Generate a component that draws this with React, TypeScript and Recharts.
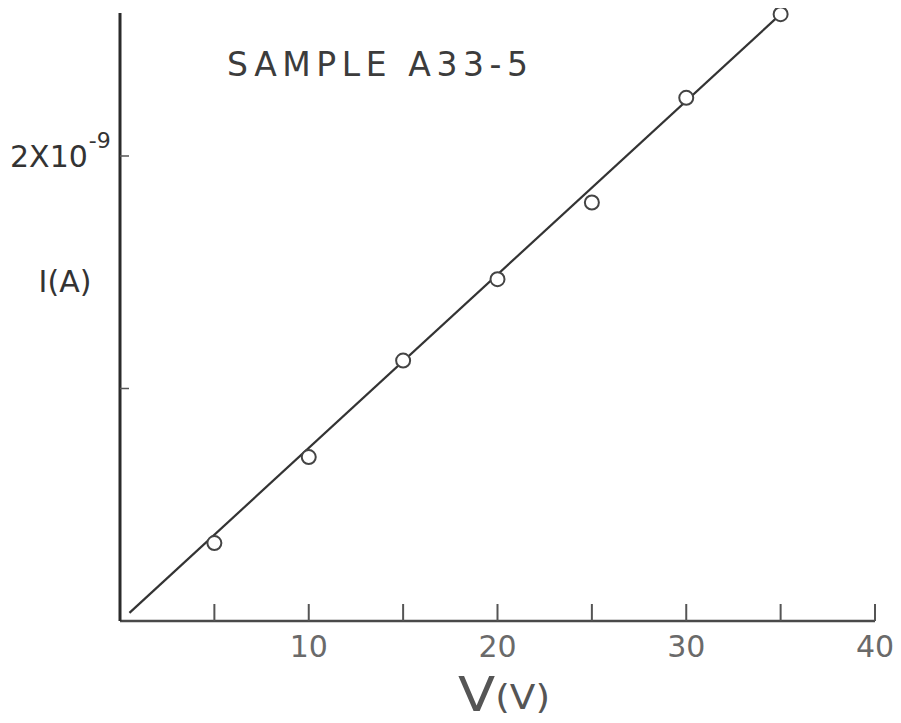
import { ComposedChart, Line, Scatter, XAxis, YAxis } from "recharts";

// I-V measurement, sample A33-5 (current in units of 1e-9 A)
const voltage = [5, 10, 15, 20, 25, 30, 35];
const current = [0.335, 0.705, 1.12, 1.47, 1.8, 2.25, 2.61];

// hand-drawn fit line endpoints
const fitVoltage = [0.5, 35];
const fitCurrent = [0.035, 2.61];

const xTicks = [5, 10, 15, 20, 25, 30, 35, 40];
const xLabelled = [10, 20, 30, 40];
const yTicks = [1, 2];

const points = voltage.map((v, k) => ({ v, i: current[k] }));
const fit = fitVoltage.map((v, k) => ({ v, i: fitCurrent[k] }));

const FONT = "'DejaVu Sans', sans-serif";
const INK = "#333";

function XTick(props: any) {
  const { x, y, payload } = props;
  const val = payload.value;
  return (
    <g>
      <line x1={x} y1={y} x2={x} y2={y - 17} stroke="#555" strokeWidth={2} />
      {xLabelled.includes(val) && (
        <text x={x} y={y + 36} textAnchor="middle" fontFamily={FONT} fontSize={30} fill="#6a6a6a">
          {val}
        </text>
      )}
    </g>
  );
}

function YTick(props: any) {
  const { x, y } = props;
  return <line x1={x} y1={y} x2={x + 9} y2={y} stroke="#555" strokeWidth={1.5} />;
}

function Ring(props: any) {
  const { cx, cy } = props;
  return <circle cx={cx} cy={cy} r={7} fill="#fff" stroke="#444" strokeWidth={2} />;
}

export default function App() {
  return (
    <div style={{ position: "relative", width: 885, height: 707 }}>
      <ComposedChart
        width={885}
        height={707}
        margin={{ top: 5, right: 18, bottom: 54, left: 0 }}
      >
        <XAxis
          dataKey="v"
          type="number"
          domain={[0, 40]}
          ticks={xTicks}
          height={40}
          tickSize={0}
          tickMargin={0}
          tick={<XTick />}
          axisLine={{ stroke: "#4a4a4a", strokeWidth: 2.5 }}
        />
        <YAxis
          dataKey="i"
          type="number"
          domain={[0, 2.615]}
          ticks={yTicks}
          width={112}
          tickSize={0}
          tickMargin={0}
          tick={<YTick />}
          axisLine={{ stroke: "#2b2b2b", strokeWidth: 3 }}
        />
        <Line
          data={fit}
          dataKey="i"
          type="linear"
          stroke={INK}
          strokeWidth={2.2}
          dot={false}
          activeDot={false}
          isAnimationActive={false}
        />
        <Scatter data={points} dataKey="i" shape={<Ring />} isAnimationActive={false} />
      </ComposedChart>
      <svg
        width={901}
        height={723}
        style={{ position: "absolute", left: -8, top: -8, pointerEvents: "none" }}
      >
        <text
          x={227}
          y={76}
          fontFamily={FONT}
          fontSize={33}
          fill="#3c3c3c"
          textLength={301}
          lengthAdjust="spacing"
        >
          SAMPLE A33-5
        </text>
        <text x={10} y={167} fontFamily={FONT} fontSize={30} fill={INK}>
          2X10
          <tspan dx={1} dy={-19} fontSize={22}>
            -9
          </tspan>
        </text>
        <text x={65} y={292} textAnchor="middle" fontFamily={FONT} fontSize={30} fill={INK}>
          I(A)
        </text>
        <text
          x={458}
          y={711}
          fontFamily={FONT}
          fontSize={48}
          fill="#555"
          textLength={92}
          lengthAdjust="spacingAndGlyphs"
        >
          V<tspan fontSize={33} dy={-2}>(V)</tspan>
        </text>
      </svg>
    </div>
  );
}
